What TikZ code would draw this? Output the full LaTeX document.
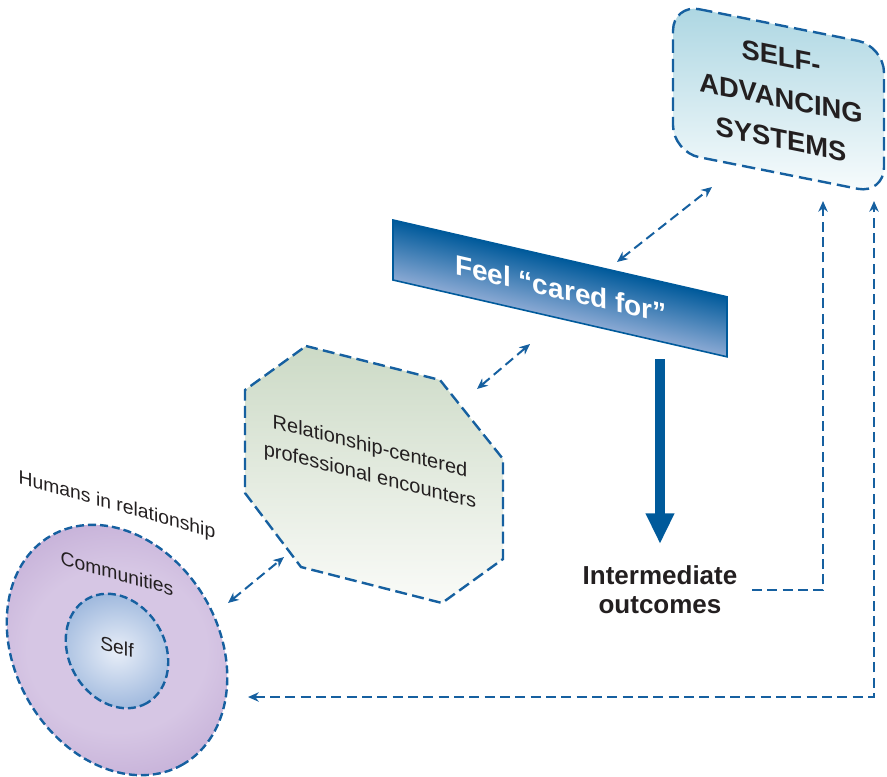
\documentclass[tikz,border=0pt]{standalone}
\usepackage{fontspec}
\setmainfont{Liberation Sans}
\usetikzlibrary{arrows.meta}

\definecolor{linkblue}{RGB}{22,96,160}
\definecolor{bannerdark}{RGB}{0,90,155}
\definecolor{bannerlight}{RGB}{140,170,212}
\definecolor{systop}{RGB}{172,214,226}
\definecolor{sysbot}{RGB}{248,252,253}
\definecolor{octtop}{RGB}{204,218,198}
\definecolor{octbot}{RGB}{250,251,248}
\definecolor{commin}{RGB}{214,198,228}
\definecolor{commout}{RGB}{176,148,200}
\definecolor{selfin}{RGB}{232,238,248}
\definecolor{selfout}{RGB}{112,150,204}
\definecolor{inkgray}{RGB}{35,31,32}

\pgfdeclareradialshading{commshade}{\pgfpoint{0bp}{0bp}}{color(0bp)=(commin); color(18bp)=(commin); color(46bp)=(commout); color(50bp)=(commout)}
\pgfdeclareradialshading{selfshade}{\pgfpoint{0bp}{0bp}}{color(0bp)=(selfin); color(46bp)=(selfout); color(50bp)=(selfout)}

\begin{document}
\begin{tikzpicture}[x=0.75pt,y=0.75pt,yscale=-1,xscale=1,
  dashedge/.style={color=linkblue, line width=1.8pt, dash pattern=on 9pt off 4pt},
  twoway/.style={color=linkblue, line width=1.5pt, dash pattern=on 7.5pt off 4pt,
    {Stealth[length=8pt,width=7pt,inset=2.5pt]}-{Stealth[length=8pt,width=7pt,inset=2.5pt]}},
  oneway/.style={color=linkblue, line width=1.5pt, dash pattern=on 7.5pt off 4pt,
    -{Stealth[length=8pt,width=7pt,inset=2.5pt]}},
  slanttext/.style={inner sep=0.75pt, align=center}]
%uncomment if require: \path (0,776); %set diagram left start at 0, and has height of 776
\useasboundingbox (0,0) rectangle (887,776);

%Shape: Rounded Parallelogram
\draw  [dashedge, dash pattern=on 10pt off 4.5pt, top color=systop, bottom color=sysbot, rounded corners=20pt] (673,4) -- (884,46) -- (884,194) -- (673,152) -- cycle ;
%Shape: Parallelogram
\begin{scope}[transform canvas={yslant=-0.23}]
\shade  [top color=bannerdark, bottom color=bannerlight] (393,129.61) rectangle (727,189.61) ;
\end{scope}
\draw  [color=bannerdark, line width=1.2pt] (393,220) -- (727,296.8) -- (727,356.8) -- (393,280) -- cycle ;
%Shape: Octagon
\draw  [dashedge, top color=octtop, bottom color=octbot] (306,346) -- (440,380) -- (503,459) -- (503,559) -- (442,603) -- (301,567) -- (245,493) -- (245,390) -- cycle ;
%Shape: Ellipse
\draw  [dashedge, dash pattern=on 6pt off 3pt, shade, shading=commshade, rotate around={60:(117,650)}] (117,650) ellipse [x radius=132, y radius=102] ;
%Shape: Ellipse
\draw  [dashedge, dash pattern=on 6pt off 3pt, shade, shading=selfshade, rotate around={60:(117,651)}] (117,651) ellipse [x radius=60, y radius=48] ;

% Text Node
\draw (781,98) node (sas) [slanttext, yslant=-0.2, text=inkgray] [font=\bfseries\fontsize{20.5}{31}\selectfont] {SELF-\\ADVANCING\\SYSTEMS};
% Text Node
\draw (561,289) node (feel) [slanttext, yslant=-0.23, text=white] [font=\bfseries\fontsize{21}{25}\selectfont] {Feel “cared for”};
% Text Node
\draw (370,462) node (rpe) [slanttext, yslant=-0.25, text=inkgray] [font=\fontsize{15}{22}\selectfont] {Relationship-centered\\professional encounters};
% Text Node
\draw (117,506) node (hum) [slanttext, yslant=-0.28, text=inkgray] [font=\fontsize{14.5}{17}\selectfont] {Humans in relationship};
% Text Node
\draw (117,573) node (comm) [slanttext, yslant=-0.28, text=inkgray] [font=\fontsize{14.5}{17}\selectfont] {Communities};
% Text Node
\draw (117,647) node (self) [slanttext, yslant=-0.25, text=inkgray] [font=\fontsize{14.5}{17}\selectfont] {Self};
% Text Node
\draw (660,590) node (outc) [slanttext, text=inkgray] [font=\bfseries\fontsize{19.5}{22}\selectfont] {Intermediate\\outcomes};

% Connector ends
\coordinate (feelne) at (617,262);
\coordinate (sassw) at (712,187);
\coordinate (rpene) at (477,389);
\coordinate (feelsw) at (530,344);
\coordinate (commne) at (228,603);
\coordinate (rpesw) at (284,557);
\coordinate (feels) at (660,359);
\coordinate (outcn) at (660,544);
\coordinate (outce) at (752,590);
\coordinate (sass) at (823,201);
\coordinate (comme) at (248,697);
\coordinate (sasse) at (874,201);

%Straight Lines
\draw [twoway] (feelne) -- (sassw) ;
%Straight Lines
\draw [twoway] (rpene) -- (feelsw) ;
%Straight Lines
\draw [twoway] (commne) -- (rpesw) ;
%Straight Lines
\draw [color=bannerdark, line width=7.5pt, -{Triangle[length=23pt,width=20pt]}] (feels) -- (outcn) ;
%Shape: Polyline
\draw [oneway] (outce) -| (sass) ;
%Shape: Polyline
\draw [twoway] (comme) -| (sasse) ;
\end{tikzpicture}
\end{document}
